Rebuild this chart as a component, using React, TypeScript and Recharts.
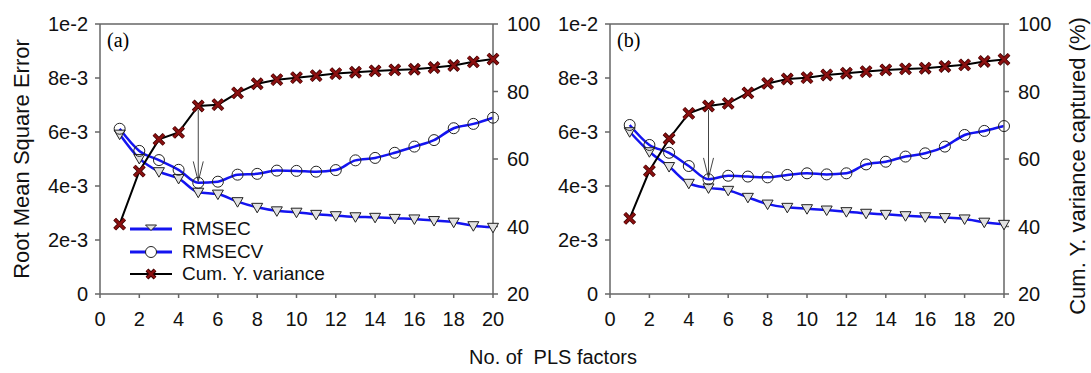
import React from "react";
import { LineChart, Line, XAxis, YAxis, ReferenceLine } from "recharts";

// PLS factors 1..20
const factors = [1, 2, 3, 4, 5, 6, 7, 8, 9, 10, 11, 12, 13, 14, 15, 16, 17, 18, 19, 20];

// panel (a) — RMSE values in units of 1e-3
const rmsecA = [5.92, 5.02, 4.53, 4.28, 3.77, 3.7, 3.42, 3.21, 3.08, 3.03, 2.95, 2.9, 2.86, 2.84, 2.8, 2.78, 2.72, 2.66, 2.53, 2.47];
const rmsecvA = [6.12, 5.3, 4.96, 4.6, 4.12, 4.16, 4.42, 4.45, 4.57, 4.56, 4.53, 4.59, 4.95, 5.04, 5.23, 5.46, 5.7, 6.14, 6.3, 6.53];
const cumVarA = [40.7, 56.4, 65.8, 67.9, 75.7, 76.1, 79.6, 82.3, 83.5, 84.1, 84.7, 85.3, 85.7, 86.1, 86.4, 86.6, 87.1, 87.7, 88.8, 89.6];

// panel (b)
const rmsecB = [6.01, 5.27, 4.72, 4.1, 3.93, 3.84, 3.58, 3.33, 3.21, 3.16, 3.11, 3.05, 2.99, 2.95, 2.9, 2.86, 2.83, 2.78, 2.66, 2.58];
const rmsecvB = [6.26, 5.52, 5.23, 4.74, 4.25, 4.38, 4.35, 4.32, 4.41, 4.47, 4.43, 4.47, 4.8, 4.9, 5.09, 5.21, 5.46, 5.89, 6.04, 6.22];
const cumVarB = [42.4, 56.5, 66.0, 73.5, 75.7, 76.5, 79.6, 82.4, 83.7, 84.1, 84.9, 85.4, 85.9, 86.4, 86.7, 86.9, 87.4, 87.9, 88.9, 89.5];

// optimum number of factors marked by the arrow
const optimumA = 5;
const optimumB = 5;

const xTicks = [0, 2, 4, 6, 8, 10, 12, 14, 16, 18, 20];
const leftTicks = [0, 0.002, 0.004, 0.006, 0.008, 0.01];
const leftTickLabels = ["0", "2e-3", "4e-3", "6e-3", "8e-3", "1e-2"];
const rightTicks = [20, 40, 60, 80, 100];

const FONT = '"Liberation Sans", Arial, sans-serif';
const AXIS = "#666";
const BLUE = "#1414f0";
const RED_X = "#8b1010";

function buildRows(rmsec: number[], rmsecv: number[], cum: number[]) {
  return factors.map((f, i) => ({
    f,
    rmsec: rmsec[i] / 1000,
    rmsecv: rmsecv[i] / 1000,
    cum: cum[i],
  }));
}

const TriangleDot = (p: any) => {
  const { cx, cy, key } = p;
  if (cx == null || cy == null) return <g key={key} />;
  return (
    <path
      key={key}
      d={`M${cx - 5.5},${cy - 4} L${cx + 5.5},${cy - 4} L${cx},${cy + 5.5} Z`}
      fill="#e2e2e2"
      stroke="#222"
      strokeWidth={1}
    />
  );
};

const CircleDot = (p: any) => {
  const { cx, cy, key } = p;
  if (cx == null || cy == null) return <g key={key} />;
  return <circle key={key} cx={cx} cy={cy} r={5.5} fill="none" stroke="#222" strokeWidth={1} />;
};

const CrossDot = (p: any) => {
  const { cx, cy, key } = p;
  if (cx == null || cy == null) return <g key={key} />;
  const d = `M${cx - 5},${cy - 5} L${cx + 5},${cy + 5} M${cx - 5},${cy + 5} L${cx + 5},${cy - 5}`;
  return (
    <g key={key}>
      <path d={d} stroke="#3a0000" strokeWidth={4} />
      <path d={d} stroke={RED_X} strokeWidth={2.4} />
    </g>
  );
};

const ArrowShape = (p: any) => {
  const { x1, y1, x2, y2 } = p;
  const top = Math.min(y1, y2);
  const tip = Math.max(y1, y2);
  return (
    <g>
      <line x1={x1} y1={top} x2={x2} y2={tip} stroke="#444" strokeWidth={1} />
      <path d={`M${x2 - 5},${tip - 20} L${x2},${tip} L${x2 + 5},${tip - 20}`} fill="none" stroke="#444" strokeWidth={1} />
    </g>
  );
};

interface PanelProps {
  rmsec: number[];
  rmsecv: number[];
  cum: number[];
  optimum: number;
  width: number;
  marginRight: number;
}

function Panel({ rmsec, rmsecv, cum, optimum, width, marginRight }: PanelProps) {
  const rows = buildRows(rmsec, rmsecv, cum);
  const idx = optimum - 1;
  // arrow runs from under the cum. variance marker down to the RMSECV marker (right-axis units)
  const arrowFrom = cum[idx] - 1.2;
  const arrowTo = 20 + rmsecv[idx] * 8 + 0.4;

  const tickStyle = { fill: "#111", fontSize: 20, fontFamily: FONT };

  return (
    <LineChart
      width={width}
      height={373}
      data={rows}
      margin={{ top: 24, right: marginRight, left: 0, bottom: 39 }}
    >
      <XAxis
        dataKey="f"
        type="number"
        domain={[0, 20]}
        ticks={xTicks}
        interval={0}
        height={40}
        axisLine={{ stroke: AXIS, strokeWidth: 1.5 }}
        tickLine={{ stroke: AXIS, strokeWidth: 1.5 }}
        tickSize={4}
        tickMargin={14}
        tick={tickStyle}
      />
      <YAxis
        yAxisId="left"
        width={100}
        domain={[0, 0.01]}
        ticks={leftTicks}
        interval={0}
        axisLine={{ stroke: AXIS, strokeWidth: 1.5 }}
        tickLine={{ stroke: AXIS, strokeWidth: 1.5 }}
        tickSize={5}
        tickMargin={7}
        tick={tickStyle}
        tickFormatter={(_v: number, i: number) => leftTickLabels[i]}
      />
      <YAxis
        yAxisId="right"
        orientation="right"
        width={60}
        domain={[20, 100]}
        ticks={rightTicks}
        interval={0}
        axisLine={{ stroke: AXIS, strokeWidth: 1.5 }}
        tickLine={{ stroke: AXIS, strokeWidth: 1.5 }}
        tickSize={5}
        tickMargin={9}
        tick={tickStyle}
      />
      <ReferenceLine yAxisId="right" y={100} stroke={AXIS} strokeWidth={1.5} />
      <Line
        yAxisId="left"
        type="monotone"
        dataKey="rmsec"
        stroke={BLUE}
        strokeWidth={2.5}
        dot={TriangleDot}
        isAnimationActive={false}
      />
      <Line
        yAxisId="left"
        type="monotone"
        dataKey="rmsecv"
        stroke={BLUE}
        strokeWidth={2.5}
        dot={CircleDot}
        isAnimationActive={false}
      />
      <Line
        yAxisId="right"
        type="linear"
        dataKey="cum"
        stroke="#000"
        strokeWidth={2}
        dot={CrossDot}
        isAnimationActive={false}
      />
      <ReferenceLine
        yAxisId="right"
        segment={[
          { x: optimum, y: arrowFrom },
          { x: optimum, y: arrowTo },
        ]}
        shape={ArrowShape}
      />
    </LineChart>
  );
}

const legendItems = [
  { label: "RMSEC", color: BLUE, marker: "triangle" },
  { label: "RMSECV", color: BLUE, marker: "circle" },
  { label: "Cum. Y. variance", color: "#000", marker: "cross" },
];

function LegendBox() {
  return (
    <div style={{ position: "absolute", left: 128, top: 218, fontFamily: FONT, fontSize: 19, color: "#111" }}>
      {legendItems.map((it) => (
        <div key={it.label} style={{ display: "flex", alignItems: "center", height: 22.5 }}>
          <svg width={46} height={16} style={{ marginRight: 8 }}>
            <line x1={2} y1={8} x2={44} y2={8} stroke={it.color} strokeWidth={it.marker === "cross" ? 2 : 3} />
            {it.marker === "triangle" && <path d="M17.5,4 L28.5,4 L23,9.5 Z" fill="#e2e2e2" stroke="#222" strokeWidth={1} />}
            {it.marker === "circle" && <circle cx={23} cy={8} r={5.5} fill="#fff" stroke="#222" strokeWidth={1} />}
            {it.marker === "cross" && (
              <g>
                <path d="M19,4 L27,12 M19,12 L27,4" stroke="#3a0000" strokeWidth={4} />
                <path d="M19,4 L27,12 M19,12 L27,4" stroke={RED_X} strokeWidth={2.4} />
              </g>
            )}
          </svg>
          <span>{it.label}</span>
        </div>
      ))}
    </div>
  );
}

const serif = '"Liberation Serif", "Times New Roman", serif';

export default function App() {
  return (
    <div style={{ position: "absolute", left: 0, top: 0, width: 1091, height: 373, background: "#fff", overflow: "hidden" }}>
      <div style={{ position: "absolute", left: 0, top: 0 }}>
        <Panel rmsec={rmsecA} rmsecv={rmsecvA} cum={cumVarA} optimum={optimumA} width={560} marginRight={7} />
      </div>
      <div style={{ position: "absolute", left: 510, top: 0 }}>
        <Panel rmsec={rmsecB} rmsecv={rmsecvB} cum={cumVarB} optimum={optimumB} width={581} marginRight={27} />
      </div>
      <div style={{ position: "absolute", left: 107, top: 29, fontFamily: serif, fontSize: 20 }}>(a)</div>
      <div style={{ position: "absolute", left: 617, top: 29, fontFamily: serif, fontSize: 20 }}>(b)</div>
      <LegendBox />
      <div
        style={{
          position: "absolute",
          left: 22,
          top: 159,
          transform: "translate(-50%, -50%) rotate(-90deg)",
          whiteSpace: "nowrap",
          fontFamily: FONT,
          fontSize: 22,
          color: "#111",
        }}
      >
        Root Mean Square Error
      </div>
      <div
        style={{
          position: "absolute",
          left: 1078,
          top: 166,
          transform: "translate(-50%, -50%) rotate(-90deg)",
          whiteSpace: "nowrap",
          fontFamily: FONT,
          fontSize: 22,
          color: "#111",
        }}
      >
        Cum. Y. variance captured (%)
      </div>
      <div
        style={{
          position: "absolute",
          left: 553,
          top: 357,
          transform: "translate(-50%, -50%)",
          whiteSpace: "pre",
          fontFamily: FONT,
          fontSize: 20,
          color: "#111",
        }}
      >
        {"No. of  PLS factors"}
      </div>
    </div>
  );
}
